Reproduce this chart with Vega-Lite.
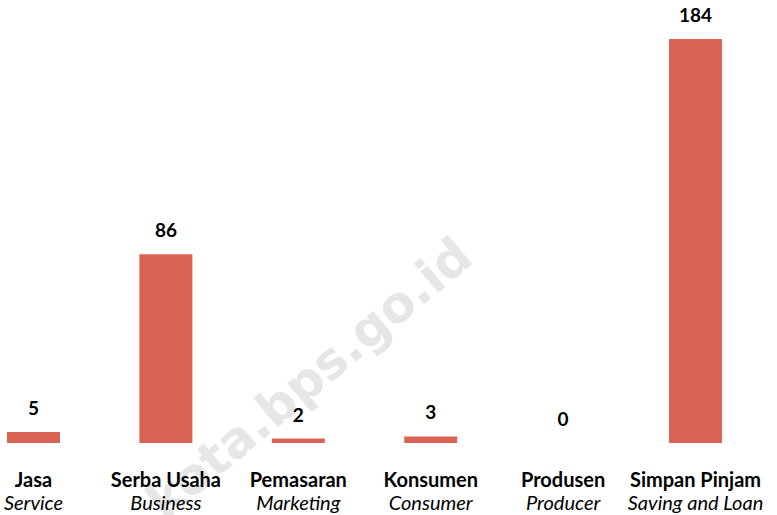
{
  "$schema": "https://vega.github.io/schema/vega-lite/v6.json",
  "width": 729,
  "height": 404,
  "autosize": {"type": "none"},
  "padding": {"left": 0, "top": 39, "right": 48, "bottom": 72},
  "background": "white",
  "config": {"view": {"stroke": null}},
  "data": {
    "values": [
      {"jenis": "Jasa", "english": "Service", "jumlah": 5},
      {"jenis": "Serba Usaha", "english": "Business", "jumlah": 86},
      {"jenis": "Pemasaran", "english": "Marketing", "jumlah": 2},
      {"jenis": "Konsumen", "english": "Consumer", "jumlah": 3},
      {"jenis": "Produsen", "english": "Producer", "jumlah": 0},
      {"jenis": "Simpan Pinjam", "english": "Saving and Loan", "jumlah": 184}
    ]
  },
  "layer": [
    {
      "transform": [{"filter": "datum.jenis === 'Pemasaran'"}],
      "mark": {"type": "text", "text": "kota.bps.go.id", "font": "DejaVu Sans", "fontWeight": "bold", "fontSize": 50, "angle": -40, "color": "#e6e6e6", "align": "center", "baseline": "middle", "dx": 16},
      "encoding": {
        "x": {"field": "jenis", "type": "nominal", "sort": ["Jasa", "Serba Usaha", "Pemasaran", "Konsumen", "Produsen", "Simpan Pinjam"], "axis": null, "title": null, "scale": {"domain": ["Jasa", "Serba Usaha", "Pemasaran", "Konsumen", "Produsen", "Simpan Pinjam"], "paddingInner": 0.6, "paddingOuter": 0.053}},
        "y": {"datum": 24, "type": "quantitative", "axis": null, "title": null}
      }
    },
    {
      "mark": {"type": "bar", "color": "#da6453"},
      "encoding": {
        "x": {"field": "jenis", "type": "nominal", "sort": ["Jasa", "Serba Usaha", "Pemasaran", "Konsumen", "Produsen", "Simpan Pinjam"], "axis": null, "title": null},
        "y": {"field": "jumlah", "type": "quantitative", "axis": null, "title": null, "scale": {"domain": [0, 184], "nice": false}}
      }
    },
    {
      "mark": {"type": "text", "font": "Lato", "fontWeight": "bold", "fontSize": 19, "color": "#000000", "baseline": "alphabetic", "dy": -17},
      "encoding": {
        "x": {"field": "jenis", "type": "nominal", "sort": ["Jasa", "Serba Usaha", "Pemasaran", "Konsumen", "Produsen", "Simpan Pinjam"], "axis": null, "title": null},
        "y": {"field": "jumlah", "type": "quantitative", "axis": null, "title": null},
        "text": {"field": "jumlah", "type": "quantitative"}
      }
    },
    {
      "mark": {"type": "text", "font": "Lato", "fontWeight": "bold", "fontSize": 20, "color": "#000000", "baseline": "alphabetic", "dy": 44},
      "encoding": {
        "x": {"field": "jenis", "type": "nominal", "sort": ["Jasa", "Serba Usaha", "Pemasaran", "Konsumen", "Produsen", "Simpan Pinjam"], "axis": null, "title": null},
        "y": {"datum": 0, "type": "quantitative", "axis": null, "title": null},
        "text": {"field": "jenis"}
      }
    },
    {
      "mark": {"type": "text", "font": "Lato", "fontStyle": "italic", "fontSize": 20, "color": "#000000", "baseline": "alphabetic", "dy": 67},
      "encoding": {
        "x": {"field": "jenis", "type": "nominal", "sort": ["Jasa", "Serba Usaha", "Pemasaran", "Konsumen", "Produsen", "Simpan Pinjam"], "axis": null, "title": null},
        "y": {"datum": 0, "type": "quantitative", "axis": null, "title": null},
        "text": {"field": "english"}
      }
    }
  ]
}
